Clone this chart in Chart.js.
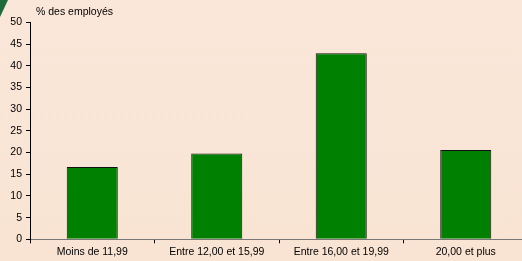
<!DOCTYPE html>
<html>
<head>
<meta charset="utf-8">
<script src="https://cdn.jsdelivr.net/npm/chart.js@4/dist/chart.umd.min.js"></script>
<style>
  html, body { margin: 0; padding: 0; overflow: hidden; width: 522px; height: 261px; }
  body { background: linear-gradient(#fae7d9, #f9e4d3); }
  #wrap { position: relative; width: 535px; height: 261px; }
</style>
</head>
<body>
<div id="wrap"><canvas id="chart" width="535" height="261"></canvas></div>
<script>
// Répartition des employés par tranche
const categories = ['Moins de 11,99', 'Entre 12,00 et 15,99', 'Entre 16,00 et 19,99', '20,00 et plus'];
const percentEmployes = [16.7, 19.8, 42.9, 20.6];
const yTicks = [0, 5, 10, 15, 20, 25, 30, 35, 40, 45, 50];

const fontFamily = '"Liberation Sans", Arial, sans-serif';

// petit coin vert + titre de l'axe
const decorPlugin = {
    id: 'decor',
    afterDraw(chart) {
        const c = chart.ctx;
        c.save();
        c.fillStyle = '#1f6b3a';
        c.beginPath();
        c.moveTo(0, 0); c.lineTo(8, 0); c.lineTo(0, 17); c.closePath();
        c.fill();
        c.fillStyle = '#000';
        c.font = '10.5px ' + fontFamily;
        c.textBaseline = 'middle';
        c.fillText('% des employés', 36, 12);
        c.restore();
    }
};

new Chart(document.getElementById('chart'), {
    type: 'bar',
    data: {
        labels: categories,
        datasets: [{
            data: percentEmployes,
            backgroundColor: '#008000',
            borderColor: '#111',
            borderWidth: 1,
            categoryPercentage: 1,
            barPercentage: 0.41
        }]
    },
    options: {
        responsive: false,
        animation: false,
        layout: { padding: { top: 22.5, right: 7, left: 0, bottom: 0 } },
        plugins: { legend: { display: false }, tooltip: { enabled: false } },
        scales: {
            x: {
                grid: { offset: true, drawOnChartArea: false, drawTicks: true, tickLength: 4, color: '#000' },
                border: { color: '#777', width: 1 },
                ticks: { color: '#000', font: { family: fontFamily, size: 10.5 }, padding: 3, maxRotation: 0 },
                afterFit(scale) { scale.height = 21.7; }
            },
            y: {
                min: 0, max: 50,
                afterBuildTicks(scale) { scale.ticks = yTicks.map(v => ({ value: v })); },
                grid: { drawOnChartArea: false, drawTicks: true, tickLength: 4, color: '#000' },
                border: { color: '#000', width: 1 },
                ticks: { color: '#000', font: { family: fontFamily, size: 10.5 }, padding: 4 },
                afterFit(scale) { scale.width = 30; }
            }
        }
    },
    plugins: [decorPlugin]
});
</script>
</body>
</html>
